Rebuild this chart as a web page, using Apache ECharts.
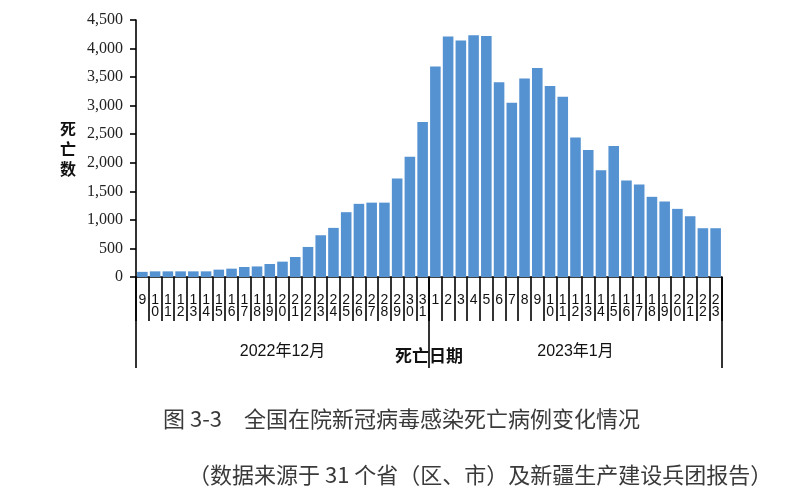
<!DOCTYPE html>
<html>
<head>
<meta charset="utf-8">
<script src="https://cdn.jsdelivr.net/npm/echarts@6/dist/echarts.min.js"></script>
<style>
  html, body { margin: 0; padding: 0; background: #fff; }
  #chart { width: 800px; height: 500px; }
</style>
</head>
<body>
<div id="chart"></div>
<script>
const days = [
  '9', '10', '11', '12', '13', '14', '15', '16', '17', '18', '19', '20',
  '21', '22', '23', '24', '25', '26', '27', '28', '29', '30', '31',
  '1', '2', '3', '4', '5', '6', '7', '8', '9', '10', '11', '12',
  '13', '14', '15', '16', '17', '18', '19', '20', '21', '22', '23',
];
const months = ['2022年12月', '2023年1月'];
const deaths = [
  90, 99, 99, 99, 99, 99, 129, 146, 175, 185, 228, 269, 350, 526, 731, 860, 1135, 1281, 1302, 1302, 1725, 2105, 2713,
  3684, 4211, 4140, 4234, 4222, 3409, 3053, 3474, 3661, 3345, 3158, 2444, 2222, 1871, 2292, 1690, 1620, 1404, 1322, 1193, 1064, 854, 854,
];
const yTicks = { min: 0, max: 4500, interval: 500 };
const titleText = '图 3-3\u3000全国在院新冠病毒感染死亡病例变化情况';
const subText = '（数据来源于 31 个省（区、市）及新疆生产建设兵团报告）';

const chart = echarts.init(document.getElementById('chart'), null, { renderer: 'canvas' });

const black = { color: '#000', width: 1.6 };

chart.setOption({
  animation: false,
  backgroundColor: '#fff',
  title: [{
    text: titleText,
    left: 158,
    top: 403,
    textStyle: { fontFamily: 'Noto Sans CJK SC', fontSize: 22, fontWeight: 'normal', color: '#3a3a3a' },
  }, {
    text: subText,
    left: 183,
    top: 459,
    textStyle: { fontFamily: 'Noto Sans CJK SC', fontSize: 22, fontWeight: 'normal', color: '#3a3a3a' },
  }],
  grid: {
    left: 136,
    right: 78,
    top: 20,
    bottom: 223,
  },
  xAxis: [{
    type: 'category',
    data: days,
    axisLine: { lineStyle: black },
    axisTick: { show: true, interval: 0, length: 44, lineStyle: black },
    axisLabel: {
      interval: 0,
      margin: 17,
      fontFamily: 'Liberation Sans Narrow, Liberation Sans, Arial',
      fontSize: 14,
      lineHeight: 12,
      color: '#111',
      formatter: (v) => v.split('').join('\n'),
    },
  }, {
    type: 'category',
    data: months,
    position: 'bottom',
    name: '死亡日期',
    nameLocation: 'middle',
    nameGap: 70,
    nameMoveOverlap: false,
    nameTextStyle: { fontFamily: 'Noto Sans CJK SC', fontSize: 17, fontWeight: 'bold', color: '#111' },
    axisLine: { show: false },
    axisTick: { show: true, interval: 0, length: 91, lineStyle: black },
    axisLabel: {
      margin: 67,
      fontFamily: 'Liberation Sans, Noto Sans CJK SC',
      fontSize: 16,
      color: '#111',
    },
  }],
  yAxis: {
    type: 'value',
    min: yTicks.min,
    max: yTicks.max,
    interval: yTicks.interval,
    name: '死\n亡\n数',
    nameLocation: 'middle',
    nameRotate: 0,
    nameGap: 60,
    nameMoveOverlap: false,
    nameTextStyle: { fontFamily: 'Noto Sans CJK SC', fontSize: 16, fontWeight: 'bold', lineHeight: 20, color: '#111' },
    splitLine: { show: false },
    axisLine: { show: true, lineStyle: black },
    axisTick: { show: true, length: 6, lineStyle: black },
    axisLabel: {
      margin: 13,
      fontFamily: 'Liberation Serif, Times New Roman, serif',
      fontSize: 16,
      color: '#222',
      formatter: (v) => v.toLocaleString('en-US'),
    },
  },
  series: [{
    name: '死亡数',
    type: 'bar',
    data: deaths,
    barCategoryGap: '17%',
    itemStyle: { color: '#5592D2' },
  }],
});
</script>
</body>
</html>
